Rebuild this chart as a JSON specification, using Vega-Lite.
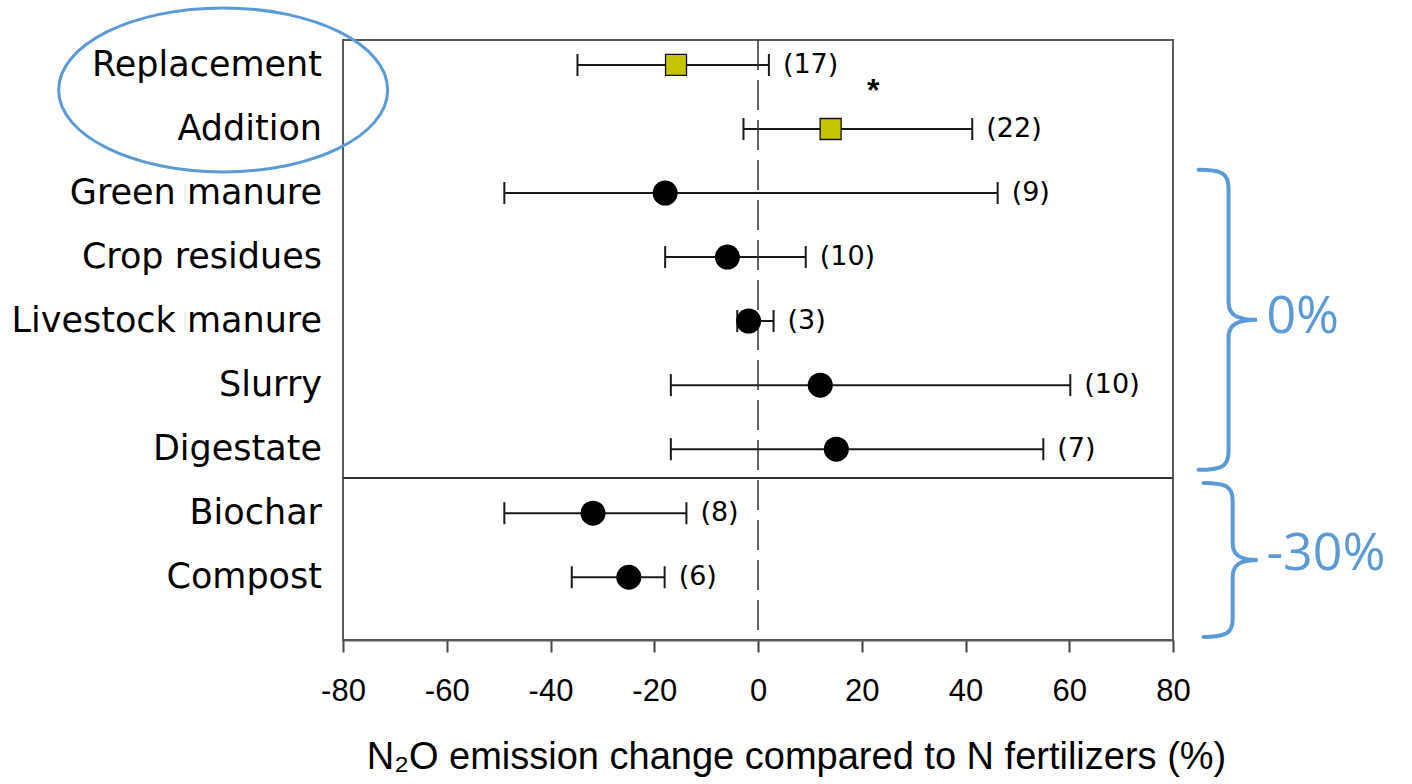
{
  "$schema": "https://vega.github.io/schema/vega-lite/v6.json",
  "width": 830,
  "height": 600,
  "autosize": {"type": "none"},
  "padding": {"left": 343, "top": 40, "right": 239, "bottom": 144},
  "background": "white",
  "config": {
    "view": {"stroke": "#5a5a5a", "strokeWidth": 2},
    "axisX": {
      "grid": false,
      "tickCount": 8,
      "labelExpr": "'' + datum.value",
      "domainColor": "#5a5a5a", "domainWidth": 2,
      "tickColor": "#444444", "tickWidth": 2, "tickSize": 12,
      "labelFont": "Liberation Sans", "labelFontSize": 31, "labelColor": "#000000", "labelPadding": 24,
      "labelOverlap": false, "labelFlush": false,
      "titleFont": "Liberation Sans", "titleFontSize": 38, "titleFontWeight": "normal", "titleColor": "#000000",
      "titleX": 453, "titleY": 128, "titleBaseline": "alphabetic", "titleAlign": "center"
    }
  },
  "data": {
    "values": [
      {"cat": "Replacement", "i": 0, "mean": -15.8, "lo": -34.8, "hi": 2.1, "n": "(17)", "kind": "type"},
      {"cat": "Addition", "i": 1, "mean": 14, "lo": -2.8, "hi": 41.3, "n": "(22)", "kind": "type"},
      {"cat": "Green manure", "i": 2, "mean": -17.9, "lo": -48.9, "hi": 46.2, "n": "(9)", "kind": "source"},
      {"cat": "Crop residues", "i": 3, "mean": -5.9, "lo": -17.9, "hi": 9.2, "n": "(10)", "kind": "source"},
      {"cat": "Livestock manure", "i": 4, "mean": -1.8, "lo": -4, "hi": 3, "n": "(3)", "kind": "source"},
      {"cat": "Slurry", "i": 5, "mean": 12, "lo": -16.8, "hi": 60.2, "n": "(10)", "kind": "source"},
      {"cat": "Digestate", "i": 6, "mean": 15.1, "lo": -16.8, "hi": 55, "n": "(7)", "kind": "source"},
      {"cat": "Biochar", "i": 7, "mean": -31.8, "lo": -48.9, "hi": -13.8, "n": "(8)", "kind": "source"},
      {"cat": "Compost", "i": 8, "mean": -24.9, "lo": -35.9, "hi": -18, "n": "(6)", "kind": "source"}
    ]
  },
  "layer": [
    {
      "mark": {"type": "rule", "color": "#1a1a1a", "strokeWidth": 2, "opacity": 1},
      "encoding": {
        "x": {
          "field": "lo", "type": "quantitative",
          "scale": {"domain": [-80, 80], "nice": false, "zero": false},
          "title": "N₂O emission change compared to N fertilizers (%)"
        },
        "x2": {"field": "hi"},
        "y": {"field": "i", "type": "quantitative", "scale": {"domain": [-0.39, 8.98], "nice": false, "zero": false, "reverse": true}, "axis": null}
      }
    },
    {
      "data": {"values": [{}]},
      "mark": {"type": "rule", "strokeDash": [30, 10], "color": "#333333", "strokeWidth": 1.5, "opacity": 1},
      "encoding": {
        "x": {"datum": 0, "type": "quantitative"}
      }
    },
    {
      "data": {"values": [{}]},
      "mark": {"type": "rule", "color": "#333333", "strokeWidth": 2, "opacity": 1},
      "encoding": {
        "y": {"datum": 6.45, "type": "quantitative", "axis": null}
      }
    },
    {
      "mark": {"type": "tick", "orient": "vertical", "size": 22, "thickness": 2, "color": "#1a1a1a", "opacity": 1},
      "encoding": {
        "x": {"field": "lo", "type": "quantitative", "title": "N₂O emission change compared to N fertilizers (%)"},
        "y": {"field": "i", "type": "quantitative", "axis": null}
      }
    },
    {
      "mark": {"type": "tick", "orient": "vertical", "size": 22, "thickness": 2, "color": "#1a1a1a", "opacity": 1},
      "encoding": {
        "x": {"field": "hi", "type": "quantitative", "title": "N₂O emission change compared to N fertilizers (%)"},
        "y": {"field": "i", "type": "quantitative", "axis": null}
      }
    },
    {
      "transform": [{"filter": "datum.kind === 'source'"}],
      "mark": {"type": "point", "shape": "circle", "filled": true, "color": "#000000", "size": 625, "opacity": 1},
      "encoding": {
        "x": {"field": "mean", "type": "quantitative", "title": "N₂O emission change compared to N fertilizers (%)"},
        "y": {"field": "i", "type": "quantitative", "axis": null}
      }
    },
    {
      "transform": [{"filter": "datum.kind === 'type'"}],
      "mark": {"type": "point", "shape": "square", "filled": true, "fill": "#c4c400", "stroke": "#111111", "strokeWidth": 1.3, "size": 441, "opacity": 1},
      "encoding": {
        "x": {"field": "mean", "type": "quantitative", "title": "N₂O emission change compared to N fertilizers (%)"},
        "y": {"field": "i", "type": "quantitative", "axis": null}
      }
    },
    {
      "mark": {"type": "text", "align": "left", "baseline": "middle", "dx": 14, "font": "DejaVu Sans", "fontSize": 27, "color": "#000000"},
      "encoding": {
        "x": {"field": "hi", "type": "quantitative", "title": "N₂O emission change compared to N fertilizers (%)"},
        "y": {"field": "i", "type": "quantitative", "axis": null},
        "text": {"field": "n"}
      }
    },
    {
      "mark": {"type": "text", "align": "right", "baseline": "middle", "dx": -21, "font": "DejaVu Sans", "fontSize": 35, "color": "#000000", "clip": false},
      "encoding": {
        "x": {"datum": -80, "type": "quantitative"},
        "y": {"field": "i", "type": "quantitative", "axis": null},
        "text": {"field": "cat"}
      }
    },
    {
      "data": {"values": [{"t": "*"}]},
      "mark": {"type": "text", "align": "center", "baseline": "alphabetic", "font": "Liberation Sans", "fontWeight": "bold", "fontSize": 32, "color": "#000000"},
      "encoding": {
        "x": {"datum": 22.2, "type": "quantitative"},
        "y": {"datum": 0.57, "type": "quantitative", "axis": null},
        "text": {"field": "t"}
      }
    },
    {
      "data": {"values": [{}]},
      "mark": {"type": "point", "shape": "M -1 0 A 1 0.4985 0 1 0 1 0 A 1 0.4985 0 1 0 -1 0 Z", "size": 108241, "filled": false, "stroke": "#5b9bd5", "strokeWidth": 3, "opacity": 1, "clip": false},
      "encoding": {
        "x": {"datum": -103.1, "type": "quantitative"},
        "y": {"datum": 0.39, "type": "quantitative", "axis": null}
      }
    },
    {
      "data": {"values": [{}]},
      "mark": {"type": "point", "shape": "M -0.2 -1 C -0.05 -1 0 -0.98 0 -0.88 L 0 -0.12 C 0 -0.03 0.06 0 0.19 0 C 0.06 0 0 0.03 0 0.12 L 0 0.88 C 0 0.98 -0.05 1 -0.2 1", "size": 90000, "filled": false, "stroke": "#5b9bd5", "strokeWidth": 4, "strokeCap": "round", "opacity": 1, "clip": false},
      "encoding": {
        "x": {"datum": 90.7, "type": "quantitative"},
        "y": {"datum": 3.98, "type": "quantitative", "axis": null}
      }
    },
    {
      "data": {"values": [{}]},
      "mark": {"type": "point", "shape": "M -0.377 -1 C -0.1 -1 0 -0.96 0 -0.77 L 0 -0.22 C 0 -0.06 0.1 0 0.325 0 C 0.1 0 0 0.06 0 0.22 L 0 0.77 C 0 0.96 -0.1 1 -0.377 1", "size": 23716, "filled": false, "stroke": "#5b9bd5", "strokeWidth": 4, "strokeCap": "round", "opacity": 1, "clip": false},
      "encoding": {
        "x": {"datum": 91.5, "type": "quantitative"},
        "y": {"datum": 7.73, "type": "quantitative", "axis": null}
      }
    },
    {
      "data": {"values": [{"t": "0%"}, {"t": "-30%"}]},
      "transform": [{"filter": "datum.t === '0%'"}],
      "mark": {"type": "text", "align": "left", "baseline": "alphabetic", "font": "Open Sans", "fontSize": 52, "color": "#5b9bd5", "clip": false},
      "encoding": {
        "x": {"datum": 98, "type": "quantitative"},
        "y": {"datum": 4.19, "type": "quantitative", "axis": null},
        "text": {"field": "t"}
      }
    },
    {
      "data": {"values": [{"t": "0%"}, {"t": "-30%"}]},
      "transform": [{"filter": "datum.t === '-30%'"}],
      "mark": {"type": "text", "align": "left", "baseline": "alphabetic", "font": "Open Sans", "fontSize": 52, "color": "#5b9bd5", "clip": false},
      "encoding": {
        "x": {"datum": 98, "type": "quantitative"},
        "y": {"datum": 7.89, "type": "quantitative", "axis": null},
        "text": {"field": "t"}
      }
    }
  ]
}
